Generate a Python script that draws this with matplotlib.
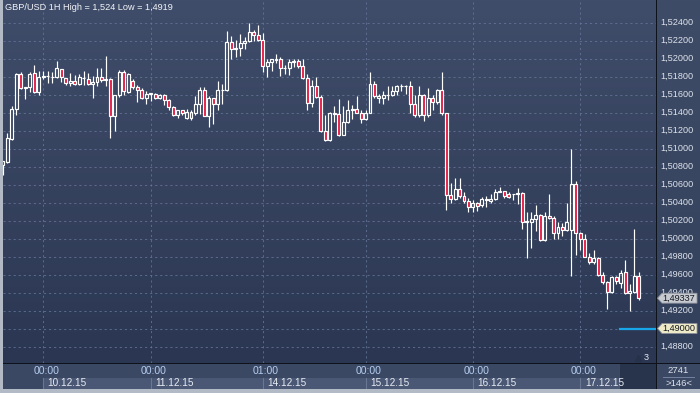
import numpy as np
import matplotlib.pyplot as plt
from matplotlib.patches import Rectangle, Polygon
from matplotlib.colors import LinearSegmentedColormap

# bougies horaires GBP/USD (143 bougies)
opens = [
    1.5082, 1.5085, 1.5111, 1.5144, 1.5183, 1.5167, 1.5168, 1.5184, 1.5163, 1.5180,
    1.5181, 1.5179, 1.5179, 1.5188, 1.5178, 1.5173, 1.5175, 1.5172, 1.5178, 1.5177,
    1.5172, 1.5174, 1.5180, 1.5176, 1.5177, 1.5136, 1.5159, 1.5185, 1.5163, 1.5175,
    1.5168, 1.5165, 1.5156, 1.5161, 1.5161, 1.5156, 1.5160, 1.5154, 1.5146, 1.5137,
    1.5143, 1.5134, 1.5134, 1.5140, 1.5150, 1.5165, 1.5136, 1.5156, 1.5150, 1.5165,
    1.5165, 1.5218, 1.5211, 1.5212, 1.5217, 1.5219, 1.5229, 1.5226, 1.5221, 1.5192,
    1.5196, 1.5199, 1.5199, 1.5190, 1.5189, 1.5196, 1.5197, 1.5192, 1.5178, 1.5151,
    1.5169, 1.5157, 1.5119, 1.5109, 1.5140, 1.5138, 1.5115, 1.5129, 1.5143, 1.5144,
    1.5140, 1.5133, 1.5140, 1.5172, 1.5156, 1.5156, 1.5159, 1.5160, 1.5164, 1.5169,
    1.5169, 1.5169, 1.5150, 1.5137, 1.5159, 1.5137, 1.5156, 1.5152, 1.5165, 1.5139,
    1.5048, 1.5044, 1.5055, 1.5047, 1.5042, 1.5035, 1.5039, 1.5037, 1.5044, 1.5042,
    1.5044, 1.5052, 1.5053, 1.5050, 1.5049, 1.5050, 1.5051, 1.5018, 1.5018, 1.5022,
    1.5026, 1.4998, 1.5025, 1.5023, 1.5006, 1.5013, 1.5009, 1.5009, 1.5061, 1.5006,
    1.5000, 1.4980, 1.4974, 1.4978, 1.4960, 1.4952, 1.4941, 1.4957, 1.4951, 1.4963,
    1.4940, 1.4941, 1.4958]
highs = [
    1.5086, 1.5117, 1.5147, 1.5184, 1.5185, 1.5168, 1.5185, 1.5193, 1.5186, 1.5186,
    1.5186, 1.5185, 1.5197, 1.5188, 1.5178, 1.5184, 1.5182, 1.5183, 1.5186, 1.5184,
    1.5181, 1.5190, 1.5190, 1.5203, 1.5178, 1.5160, 1.5187, 1.5187, 1.5184, 1.5177,
    1.5171, 1.5167, 1.5164, 1.5162, 1.5162, 1.5161, 1.5161, 1.5155, 1.5147, 1.5143,
    1.5143, 1.5144, 1.5143, 1.5158, 1.5168, 1.5168, 1.5158, 1.5156, 1.5175, 1.5172,
    1.5231, 1.5225, 1.5221, 1.5227, 1.5224, 1.5240, 1.5232, 1.5237, 1.5228, 1.5199,
    1.5199, 1.5205, 1.5202, 1.5193, 1.5199, 1.5199, 1.5199, 1.5199, 1.5183, 1.5176,
    1.5179, 1.5159, 1.5137, 1.5141, 1.5147, 1.5155, 1.5147, 1.5154, 1.5148, 1.5158,
    1.5143, 1.5143, 1.5185, 1.5175, 1.5161, 1.5164, 1.5169, 1.5169, 1.5171, 1.5172,
    1.5171, 1.5175, 1.5159, 1.5169, 1.5161, 1.5167, 1.5159, 1.5166, 1.5185, 1.5139,
    1.5062, 1.5067, 1.5067, 1.5052, 1.5045, 1.5043, 1.5041, 1.5046, 1.5047, 1.5050,
    1.5055, 1.5057, 1.5053, 1.5052, 1.5050, 1.5056, 1.5052, 1.5029, 1.5029, 1.5037,
    1.5027, 1.5029, 1.5050, 1.5025, 1.5018, 1.5017, 1.5039, 1.5099, 1.5064, 1.5007,
    1.5005, 1.4984, 1.4987, 1.4979, 1.4963, 1.4953, 1.4958, 1.4958, 1.4965, 1.4976,
    1.4950, 1.5011, 1.4963]
lows = [
    1.5071, 1.5084, 1.5110, 1.5137, 1.5166, 1.5155, 1.5163, 1.5162, 1.5160, 1.5177,
    1.5173, 1.5173, 1.5178, 1.5174, 1.5171, 1.5170, 1.5171, 1.5171, 1.5171, 1.5171,
    1.5156, 1.5170, 1.5174, 1.5170, 1.5112, 1.5120, 1.5157, 1.5159, 1.5162, 1.5166,
    1.5152, 1.5155, 1.5150, 1.5153, 1.5155, 1.5155, 1.5148, 1.5143, 1.5136, 1.5134,
    1.5137, 1.5133, 1.5132, 1.5137, 1.5138, 1.5136, 1.5124, 1.5127, 1.5143, 1.5150,
    1.5164, 1.5199, 1.5202, 1.5203, 1.5211, 1.5218, 1.5220, 1.5219, 1.5185, 1.5180,
    1.5186, 1.5195, 1.5181, 1.5183, 1.5182, 1.5191, 1.5189, 1.5177, 1.5143, 1.5146,
    1.5156, 1.5118, 1.5108, 1.5108, 1.5129, 1.5114, 1.5115, 1.5128, 1.5133, 1.5139,
    1.5128, 1.5132, 1.5139, 1.5156, 1.5151, 1.5150, 1.5154, 1.5158, 1.5159, 1.5164,
    1.5161, 1.5140, 1.5135, 1.5135, 1.5131, 1.5135, 1.5143, 1.5150, 1.5137, 1.5032,
    1.5040, 1.5043, 1.5045, 1.5040, 1.5030, 1.5029, 1.5031, 1.5035, 1.5035, 1.5040,
    1.5043, 1.5052, 1.5045, 1.5045, 1.5043, 1.5038, 1.5011, 1.4978, 1.4990, 1.5008,
    1.4997, 1.4997, 1.5022, 1.4999, 1.5000, 1.5003, 1.5008, 1.4958, 1.4982, 1.4987,
    1.4979, 1.4972, 1.4972, 1.4958, 1.4950, 1.4922, 1.4940, 1.4950, 1.4945, 1.4938,
    1.4919, 1.4939, 1.4932]
closes = [
    1.5086, 1.5112, 1.5144, 1.5183, 1.5167, 1.5168, 1.5183, 1.5163, 1.5180, 1.5181,
    1.5181, 1.5180, 1.5189, 1.5179, 1.5173, 1.5175, 1.5172, 1.5179, 1.5178, 1.5172,
    1.5174, 1.5180, 1.5176, 1.5177, 1.5136, 1.5159, 1.5185, 1.5164, 1.5183, 1.5168,
    1.5165, 1.5156, 1.5161, 1.5162, 1.5156, 1.5160, 1.5154, 1.5146, 1.5137, 1.5143,
    1.5140, 1.5141, 1.5141, 1.5150, 1.5165, 1.5136, 1.5156, 1.5150, 1.5165, 1.5165,
    1.5218, 1.5211, 1.5212, 1.5217, 1.5219, 1.5229, 1.5226, 1.5221, 1.5192, 1.5196,
    1.5199, 1.5198, 1.5190, 1.5189, 1.5196, 1.5197, 1.5192, 1.5178, 1.5151, 1.5169,
    1.5157, 1.5119, 1.5109, 1.5140, 1.5138, 1.5115, 1.5129, 1.5143, 1.5144, 1.5140,
    1.5133, 1.5140, 1.5172, 1.5158, 1.5158, 1.5159, 1.5160, 1.5164, 1.5169, 1.5169,
    1.5169, 1.5150, 1.5137, 1.5159, 1.5137, 1.5156, 1.5152, 1.5165, 1.5139, 1.5048,
    1.5044, 1.5055, 1.5047, 1.5042, 1.5035, 1.5039, 1.5036, 1.5044, 1.5043, 1.5044,
    1.5052, 1.5053, 1.5047, 1.5046, 1.5050, 1.5051, 1.5018, 1.5019, 1.5022, 1.5026,
    1.4998, 1.5025, 1.5023, 1.5006, 1.5013, 1.5009, 1.5018, 1.5061, 1.5006, 1.5000,
    1.4980, 1.4974, 1.4978, 1.4960, 1.4952, 1.4941, 1.4957, 1.4953, 1.4962, 1.4940,
    1.4942, 1.4958, 1.49337]

prix_ticks = [1.488, 1.490, 1.492, 1.494, 1.496, 1.498, 1.500, 1.502, 1.504, 1.506,
              1.508, 1.510, 1.512, 1.514, 1.516, 1.518, 1.520, 1.522, 1.524]
jour_pos = [9, 33, 58, 81, 105, 129]          # index de bougie du debut de journee
heure_labels = ['00:00', '00:00', '01:00', '00:00', '00:00', '00:00']
date_labels = ['10.12.15', '11.12.15', '14.12.15', '15.12.15', '16.12.15', '17.12.15']
dernier_cours = 1.49337
niveau_alerte = 1.49000
titre = 'GBP/USD 1H High = 1,524 Low = 1,4919'

# couleurs
ROUGE = '#e5173f'
GRILLE = '#66759a'
TXT = '#dde2ea'
W, H = 700, 393


def rect(x0, y0, x1, y1):
    # position en pixels (origine en haut a gauche) -> fraction de figure
    return [x0 / W, 1 - y1 / H, (x1 - x0) / W, (y1 - y0) / H]


def degrade(axe, haut, bas):
    cmap = LinearSegmentedColormap.from_list('fond', [haut, bas])
    axe.imshow(np.linspace(0, 1, 256).reshape(-1, 1), cmap=cmap, extent=[0, 1, 0, 1],
               transform=axe.transAxes, aspect='auto', zorder=0, interpolation='bilinear')


def nettoie(axe):
    axe.set_xticks([])
    axe.set_yticks([])
    for s in axe.spines.values():
        s.set_visible(False)


def fmt(p):
    return f'{p:.5f}'.replace('.', ',')


plt.rcParams['font.family'] = ['Liberation Sans', 'DejaVu Sans']

fig = plt.figure(figsize=(7, 3.93), dpi=100)
fig.patch.set_facecolor('#b2bac6')
fig.add_artist(Rectangle((3 / W, 1 - 389 / H), 697 / W, 389 / H, transform=fig.transFigure,
                         facecolor='#0e121a', edgecolor='none', zorder=0))

ax = fig.add_axes(rect(3, 0, 656, 363))
tax = fig.add_axes(rect(3, 364, 656, 389))
rax = fig.add_axes(rect(657, 0, 700, 363))
cax = fig.add_axes(rect(657, 364, 700, 389))
for a in (ax, tax, rax, cax):
    nettoie(a)

# --- zone principale
degrade(ax, '#404d6a', '#2b3752')
for p in prix_ticks:
    ax.axhline(p, color=GRILLE, lw=0.7, ls=(0, (2.2, 3)), alpha=0.8, zorder=1)
for k in jour_pos:
    ax.axvline(k, color=GRILLE, lw=0.7, ls=(0, (2.2, 3)), alpha=0.8, zorder=1)

larg = 0.66
for k in range(len(opens)):
    o, h, l, c = opens[k], highs[k], lows[k], closes[k]
    haut, bas = max(o, c), min(o, c)
    if h > haut:
        ax.plot([k, k], [haut, h], color='white', lw=0.85, solid_capstyle='butt', zorder=3)
    if l < bas:
        ax.plot([k, k], [l, bas], color='white', lw=0.85, solid_capstyle='butt', zorder=3)
    face = ROUGE if c < o else 'none'
    ax.add_patch(Rectangle((k - larg / 2, bas), larg, haut - bas, facecolor=face,
                           edgecolor='white', lw=0.85, zorder=4))

ax.plot([137.9, 145.9], [niveau_alerte, niveau_alerte], color='#19a6e8', lw=1.6, zorder=5)
ax.plot([0.9717], [0.015], marker='^', ms=5, color='#26314a', transform=ax.transAxes,
        zorder=6, clip_on=False)
ax.text(0.9845, 0.016, '3', transform=ax.transAxes, ha='center', va='center',
        fontsize=6.5, color='#e6eaf0', zorder=6)
ax.text(2 / 653, 1 - 8 / 363, titre, transform=ax.transAxes, ha='left', va='center',
        fontsize=6.6, color='#f2f4f8', zorder=6)

ax.set_xlim(0, 145.9)
ax.set_ylim(1.48617, 1.5265)

# --- axe des prix a droite
degrade(rax, '#3f4c68', '#33405c')
rax.set_ylim(1.48617, 1.5265)
rax.set_xlim(0, 43)
for p in prix_ticks:
    # le niveau 1,49000 est cache sous son etiquette d'alerte
    if abs(p - niveau_alerte) < 1e-9:
        continue
    rax.text(3, p, fmt(p), ha='left', va='center', fontsize=6.6, color=TXT, zorder=2)

hb = 0.00055
for p, fond in [(dernier_cours, '#c7cad1'), (niveau_alerte, '#eeebc9')]:
    rax.add_patch(Polygon([(0.5, p), (5, p + hb), (40, p + hb), (40, p - hb), (5, p - hb)],
                          closed=True, facecolor=fond, edgecolor='#8d929c', lw=0.6, zorder=5))
    rax.text(5.5, p, fmt(p), ha='left', va='center', fontsize=6.6, color='#15181e', zorder=6)

# --- axe du temps
tax.set_facecolor('#3b4864')
tax.set_xlim(0, 145.9)
tax.set_ylim(0, 1)
fins = jour_pos[1:] + [137.9]
for k, fin, heure, date in zip(jour_pos, fins, heure_labels, date_labels):
    tax.add_patch(Rectangle((k, 0), fin - k, 0.46, facecolor='#4a5876', edgecolor='none', zorder=1))
    tax.plot([k, k], [0, 0.46], color='#6a7792', lw=0.8, zorder=2)
    tax.text(k + 0.7, 0.72, heure, ha='center', va='center', fontsize=7.6, color='#b4cdef', zorder=3)
    tax.text(k + 1.0, 0.22, date, ha='left', va='center', fontsize=7.2, color='#e8ecf2', zorder=3)
tax.plot([137.9, 137.9], [0, 1], color='#55627e', lw=0.8, zorder=2)
tax.add_patch(Rectangle((137.9, 0), 8, 1, facecolor='#28334c', edgecolor='none', zorder=2))

# --- coin en bas a droite
cax.set_facecolor('#3b4864')
cax.set_xlim(0, 1)
cax.set_ylim(0, 1)
cax.text(0.5, 0.74, '2741', ha='center', va='center', fontsize=6.8, color=TXT)
cax.text(0.5, 0.24, '>146<', ha='center', va='center', fontsize=6.8, color=TXT)
cax.plot([0.14, 0.86], [0.5, 0.5], color='#7481a0', lw=0.7)

fig.savefig('out.png', dpi=100, facecolor=fig.get_facecolor())
